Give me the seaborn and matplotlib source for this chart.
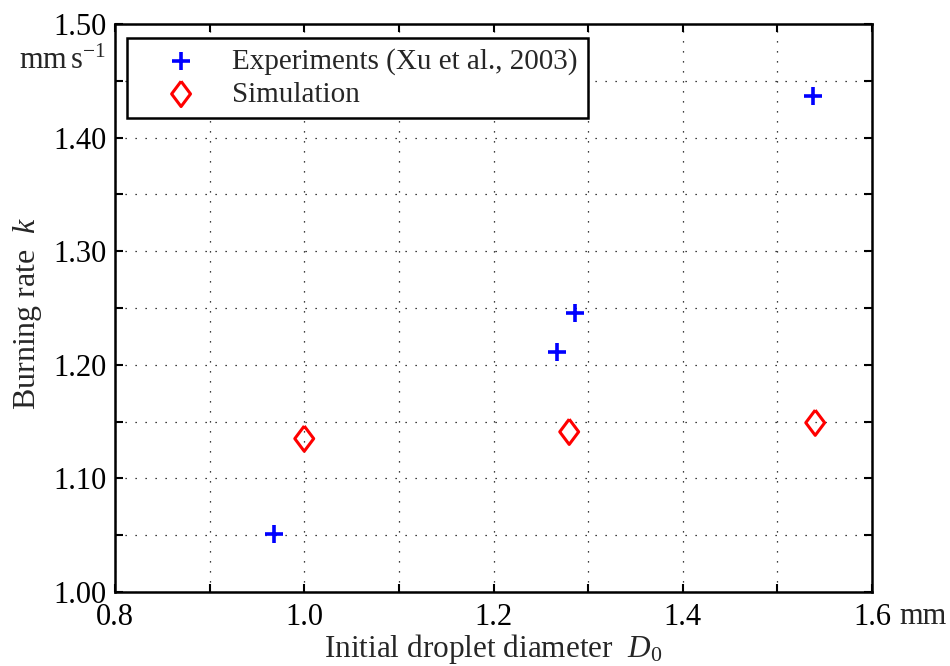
import matplotlib
matplotlib.use("Agg")
import matplotlib.pyplot as plt
import seaborn as sns
import numpy as np

# Data
exp_d = [0.968, 1.267, 1.286, 1.538]
exp_k = [1.051, 1.211, 1.246, 1.437]
sim_d = [1.000, 1.280, 1.540]
sim_k = [1.135, 1.141, 1.149]
exp_label = "Experiments (Xu et al., 2003)"
sim_label = "Simulation"
x_ticks = [0.8, 1.0, 1.2, 1.4, 1.6]
x_ticklabels = ["0.8", "1.0", "1.2", "1.4", "1.6"]
y_ticks = [1.00, 1.10, 1.20, 1.30, 1.40, 1.50]
y_ticklabels = ["1.00", "1.10", "1.20", "1.30", "1.40", "1.50"]

sns.set_style("ticks")
plt.rcParams["font.family"] = ["Liberation Serif", "DejaVu Serif"]
plt.rcParams["mathtext.fontset"] = "custom"
plt.rcParams["mathtext.rm"] = "Liberation Serif"
plt.rcParams["mathtext.it"] = "Liberation Serif:italic"

fig = plt.figure(figsize=(9.5, 6.66), dpi=100)
ax = fig.add_axes([115/950, 1-592/666, (872-115)/950, (592-24)/666])

sns.scatterplot(x=exp_d, y=exp_k, ax=ax, marker="+", color="#0000ff",
                s=150, linewidth=2.6, label=exp_label, zorder=5)
diamond = [(0, 1), (0.75, 0), (0, -1), (-0.75, 0), (0, 1)]
sns.scatterplot(x=sim_d, y=sim_k, ax=ax, marker=diamond, facecolor="none",
                edgecolor="#ff0000", s=330, linewidth=2.2, label=sim_label, zorder=5)

ax.set_xlim(0.8, 1.6)
ax.set_ylim(1.0, 1.5)
ax.set_xticks(x_ticks)
ax.set_xticklabels(x_ticklabels)
ax.set_xticks(np.arange(0.9, 1.6, 0.2), minor=True)
ax.set_yticks(y_ticks)
ax.set_yticklabels(y_ticklabels)
ax.set_yticks(np.arange(1.05, 1.5, 0.1), minor=True)

ax.grid(True, which="both", color="black", linestyle=(0, (1, 7)), linewidth=0.9)
ax.tick_params(which="both", direction="in", top=True, right=True,
               length=6, width=1.5, labelsize=22, colors="black")
ax.tick_params(axis="x", pad=8)
ax.tick_params(axis="y", pad=6)
for sp in ax.spines.values():
    sp.set_linewidth(1.8)
    sp.set_color("black")

ax.text(-0.012, 0.935, "mm$\\,$s$^{-1}$", transform=ax.transAxes, ha="right",
        va="center", fontsize=22)
ax.annotate("mm", xy=(1.6, 1.0), xycoords="data", xytext=(19.5, -18),
            textcoords="offset points", ha="left", va="center", fontsize=22)

ax.set_xlabel("Initial droplet diameter  $D_0$", fontsize=22.5, labelpad=0)
ax.set_ylabel("Burning rate  $k$", fontsize=23)
ax.yaxis.set_label_coords(-0.094, 0.49)

leg = ax.legend(loc="upper left", bbox_to_anchor=(0.016, 0.975), fontsize=21,
                frameon=True, fancybox=False, edgecolor="black",
                borderpad=0.35, handletextpad=0.25, labelspacing=0.2,
                borderaxespad=0.0, handlelength=3.0)
leg.get_frame().set_linewidth(1.8)
leg.get_frame().set_facecolor("white")
leg.get_frame().set_alpha(1)

fig.savefig("out.png", dpi=100)
